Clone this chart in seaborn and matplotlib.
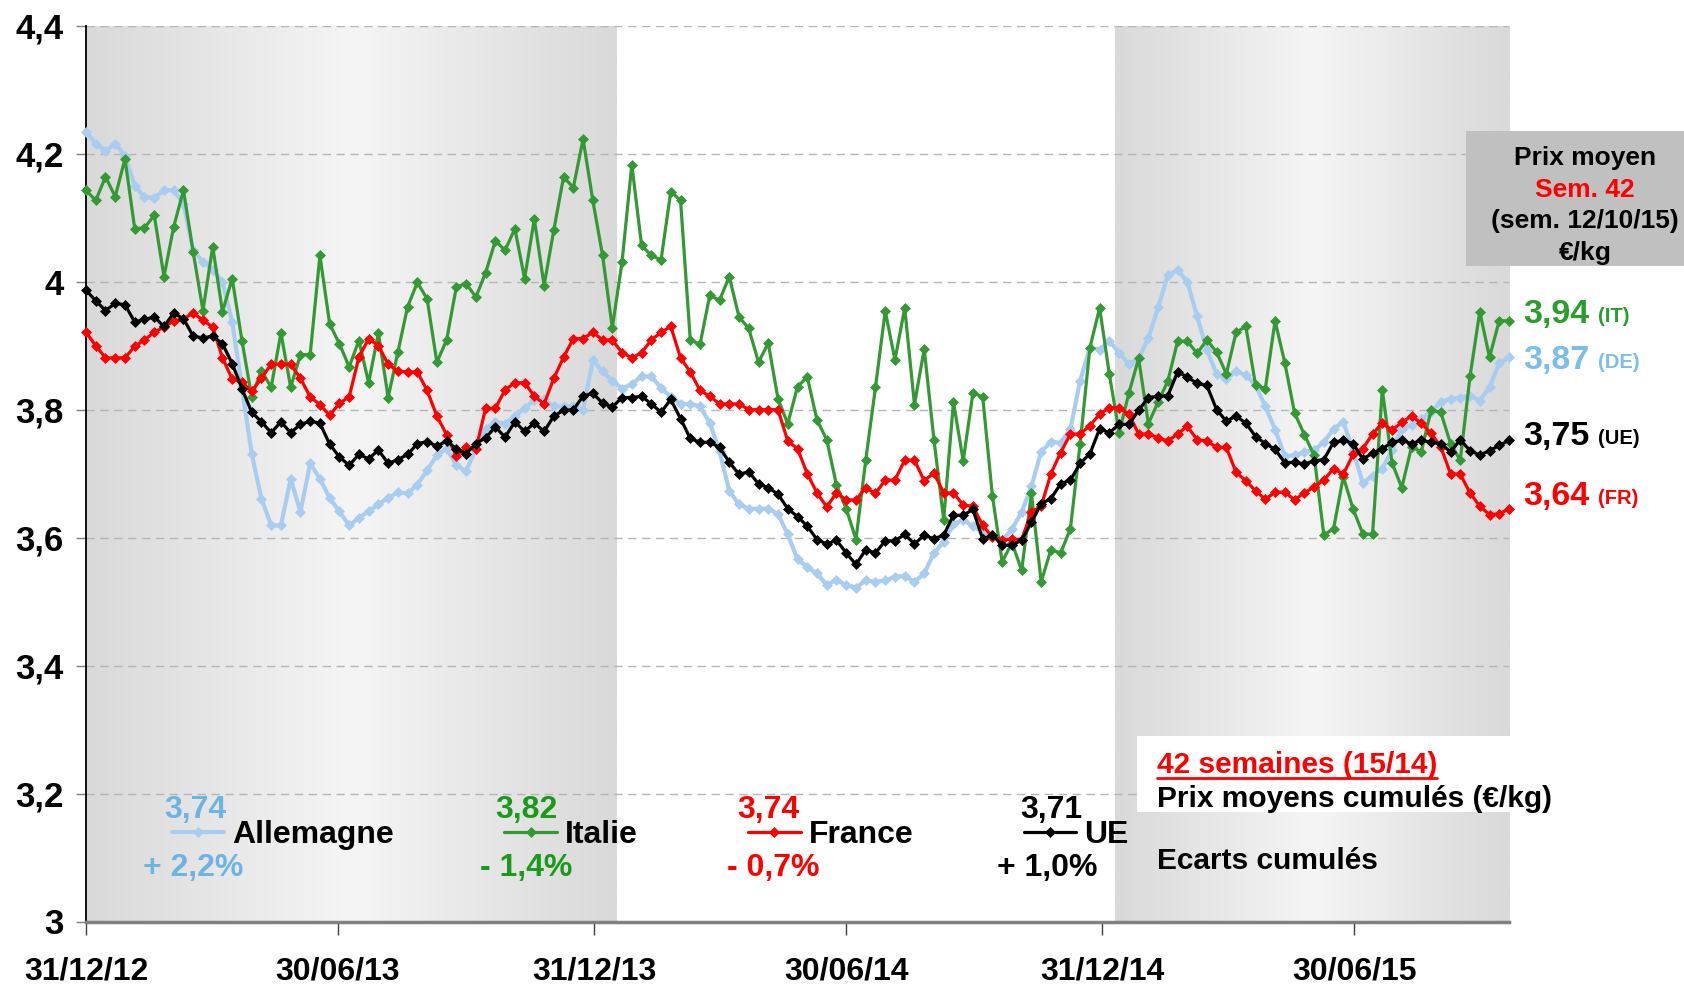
import numpy as np
import pandas as pd
import seaborn as sns
import matplotlib.pyplot as plt
import matplotlib.dates as mdates
from matplotlib.colors import LinearSegmentedColormap
from matplotlib.patches import Rectangle
from matplotlib.lines import Line2D

# weekly prices (EUR/kg), first week = 31/12/12
start_date = '2012-12-31'
countries = ['Allemagne', 'Italie', 'France', 'UE']

de = [4.234, 4.216, 4.204, 4.216, 4.197, 4.15, 4.132, 4.131, 4.143, 4.143,
      4.122, 4.049, 4.031, 4.019, 4.0, 3.937, 3.835, 3.731, 3.661, 3.619,
      3.619, 3.692, 3.64, 3.716, 3.692, 3.662, 3.641, 3.619, 3.631, 3.641,
      3.652, 3.662, 3.671, 3.669, 3.683, 3.705, 3.729, 3.739, 3.713, 3.704,
      3.739, 3.77, 3.781, 3.778, 3.79, 3.802, 3.815, 3.816, 3.805, 3.805,
      3.806, 3.80, 3.877, 3.86, 3.845, 3.833, 3.84, 3.852, 3.852, 3.834,
      3.82, 3.809, 3.809, 3.805, 3.779, 3.735, 3.673, 3.652, 3.645, 3.645,
      3.645, 3.637, 3.605, 3.566, 3.554, 3.544, 3.526, 3.534, 3.526, 3.522,
      3.533, 3.531, 3.533, 3.539, 3.54, 3.531, 3.544, 3.576, 3.593, 3.621,
      3.628, 3.618, 3.609, 3.604, 3.596, 3.613, 3.64, 3.68, 3.734, 3.75,
      3.748, 3.77, 3.845, 3.897, 3.894, 3.907, 3.889, 3.871, 3.88, 3.912,
      3.96, 4.01, 4.018, 4.0, 3.946, 3.893, 3.856, 3.848, 3.86, 3.854,
      3.838, 3.805, 3.769, 3.727, 3.729, 3.734, 3.737, 3.749, 3.77, 3.781,
      3.736, 3.685, 3.697, 3.708, 3.737, 3.77, 3.776, 3.786, 3.796, 3.812,
      3.817, 3.819, 3.822, 3.814, 3.835, 3.873, 3.882]

it = [4.143, 4.127, 4.164, 4.133, 4.192, 4.083, 4.084, 4.104, 4.008, 4.086,
      4.143, 4.046, 3.955, 4.055, 3.953, 4.005, 3.908, 3.82, 3.861, 3.835,
      3.92, 3.835, 3.886, 3.886, 4.041, 3.934, 3.903, 3.867, 3.908, 3.842,
      3.92, 3.819, 3.89, 3.961, 3.999, 3.973, 3.874, 3.909, 3.992, 3.997,
      3.976, 4.014, 4.064, 4.049, 4.083, 4.005, 4.098, 3.994, 4.081, 4.164,
      4.147, 4.223, 4.127, 4.041, 3.928, 4.031, 4.183, 4.057, 4.041, 4.034,
      4.141, 4.127, 3.909, 3.902, 3.979, 3.971, 4.008, 3.945, 3.927, 3.874,
      3.904, 3.817, 3.778, 3.836, 3.851, 3.784, 3.753, 3.682, 3.645, 3.597,
      3.721, 3.835, 3.954, 3.878, 3.959, 3.808, 3.895, 3.753, 3.628, 3.812,
      3.72, 3.826, 3.82, 3.665, 3.562, 3.592, 3.549, 3.669, 3.531, 3.581,
      3.576, 3.614, 3.747, 3.897, 3.959, 3.855, 3.764, 3.826, 3.88, 3.778,
      3.812, 3.845, 3.907, 3.907, 3.888, 3.909, 3.89, 3.856, 3.921, 3.93,
      3.838, 3.833, 3.939, 3.873, 3.795, 3.761, 3.729, 3.604, 3.614, 3.695,
      3.645, 3.606, 3.605, 3.831, 3.717, 3.678, 3.742, 3.734, 3.799, 3.796,
      3.747, 3.721, 3.852, 3.953, 3.882, 3.939, 3.939]

fr = [3.921, 3.9, 3.881, 3.881, 3.881, 3.899, 3.909, 3.921, 3.929, 3.939,
      3.942, 3.951, 3.94, 3.929, 3.881, 3.848, 3.843, 3.829, 3.849, 3.871,
      3.871, 3.871, 3.849, 3.82, 3.808, 3.791, 3.81, 3.82, 3.882, 3.911,
      3.9, 3.871, 3.86, 3.859, 3.859, 3.83, 3.79, 3.761, 3.727, 3.741,
      3.738, 3.802, 3.802, 3.831, 3.842, 3.842, 3.821, 3.809, 3.849, 3.882,
      3.911, 3.911, 3.921, 3.909, 3.909, 3.889, 3.881, 3.889, 3.909, 3.921,
      3.93, 3.881, 3.859, 3.83, 3.821, 3.809, 3.809, 3.809, 3.8, 3.8,
      3.8, 3.8, 3.751, 3.739, 3.7, 3.67, 3.648, 3.67, 3.659, 3.659,
      3.678, 3.669, 3.69, 3.69, 3.721, 3.721, 3.689, 3.701, 3.67, 3.67,
      3.651, 3.649, 3.619, 3.601, 3.596, 3.598, 3.597, 3.64, 3.649, 3.7,
      3.733, 3.762, 3.762, 3.775, 3.793, 3.803, 3.803, 3.793, 3.762, 3.762,
      3.756, 3.751, 3.762, 3.774, 3.753, 3.751, 3.741, 3.741, 3.702, 3.689,
      3.673, 3.66, 3.671, 3.671, 3.659, 3.67, 3.679, 3.69, 3.708, 3.699,
      3.73, 3.739, 3.762, 3.779, 3.768, 3.78, 3.79, 3.779, 3.763, 3.742,
      3.7, 3.699, 3.67, 3.649, 3.636, 3.637, 3.645]

ue = [3.987, 3.97, 3.955, 3.966, 3.964, 3.937, 3.941, 3.945, 3.93, 3.951,
      3.942, 3.915, 3.912, 3.915, 3.903, 3.872, 3.833, 3.796, 3.781, 3.764,
      3.781, 3.764, 3.777, 3.782, 3.779, 3.746, 3.726, 3.713, 3.73, 3.723,
      3.737, 3.716, 3.722, 3.73, 3.747, 3.75, 3.743, 3.751, 3.739, 3.731,
      3.747, 3.756, 3.773, 3.757, 3.781, 3.766, 3.779, 3.766, 3.79, 3.799,
      3.8, 3.821, 3.826, 3.81, 3.804, 3.819, 3.819, 3.821, 3.809, 3.796,
      3.816, 3.786, 3.755, 3.749, 3.749, 3.741, 3.718, 3.699, 3.703, 3.684,
      3.678, 3.668, 3.645, 3.633, 3.618, 3.597, 3.59, 3.596, 3.576, 3.558,
      3.581, 3.576, 3.595, 3.595, 3.605, 3.59, 3.604, 3.598, 3.604, 3.635,
      3.635, 3.644, 3.598, 3.604, 3.588, 3.588, 3.596, 3.624, 3.653, 3.661,
      3.684, 3.69, 3.716, 3.731, 3.77, 3.764, 3.777, 3.777, 3.799, 3.819,
      3.821, 3.822, 3.859, 3.851, 3.841, 3.838, 3.8, 3.782, 3.79, 3.779,
      3.758, 3.747, 3.738, 3.717, 3.718, 3.715, 3.72, 3.722, 3.749, 3.752,
      3.747, 3.723, 3.732, 3.739, 3.749, 3.752, 3.747, 3.752, 3.749, 3.747,
      3.734, 3.753, 3.736, 3.729, 3.736, 3.744, 3.752]

avg_prices = ['3,74', '3,82', '3,74', '3,71']
cum_gaps = ['+ 2,2%', '- 1,4%', '- 0,7%', '+ 1,0%']
last_prices = ['3,94', '3,87', '3,75', '3,64']
last_codes = ['(IT)', '(DE)', '(UE)', '(FR)']
tick_dates = ['2012-12-31', '2013-06-30', '2013-12-31', '2014-06-30', '2014-12-31', '2015-06-30']
tick_labels = ['31/12/12', '30/06/13', '31/12/13', '30/06/14', '31/12/14', '30/06/15']
band_periods = [('2012-12-31', '2014-01-16'), ('2015-01-09', None)]

dates = pd.date_range(start_date, periods=len(de), freq='7D')

sns.set_theme(style='white')
plt.rcParams['font.family'] = ['Liberation Sans', 'DejaVu Sans']
plt.rcParams['font.weight'] = 'bold'
plt.rcParams['text.color'] = 'black'
plt.rcParams['xtick.color'] = 'black'
plt.rcParams['ytick.color'] = 'black'

W, H = 1684, 985
fig = plt.figure(figsize=(W / 100, H / 100), dpi=100)


def fx(px):
    return px / W


def fy(py):
    return 1 - py / H


ax = fig.add_axes([fx(86), fy(921.5), fx(1509) - fx(86), fy(25.8) - fy(921.5)])

# series
line_colors = ['#a9cdf0', '#339933', '#ff0000', '#000000']
line_widths = [3.0, 2.3, 2.3, 2.3]
marker_sizes = [5.5, 5.0, 5.0, 5.0]
for name, vals, col, lw, ms in zip(countries, [de, it, fr, ue], line_colors, line_widths, marker_sizes):
    sns.lineplot(x=dates, y=vals, ax=ax, color=col, linewidth=lw, marker='D',
                 markersize=ms, markeredgecolor=col, markeredgewidth=0.5,
                 label=name, legend=False, clip_on=False, zorder=3)

# grey gradient bands
grad = np.linspace(0, 1, 256)
shade = 1 - np.abs(2 * grad - 1)
band_cmap = LinearSegmentedColormap.from_list('band', ['#d9d9d9', '#f5f5f5'])
for b0, b1 in band_periods:
    x0 = mdates.date2num(pd.Timestamp(b0))
    x1 = mdates.date2num(pd.Timestamp(b1) if b1 else dates[-1])
    ax.imshow(shade[None, :], extent=[x0, x1, 3.0, 4.4], aspect='auto',
              cmap=band_cmap, vmin=0, vmax=1, zorder=0)

ax.set_xlim(dates[0], dates[-1])
ax.set_ylim(3.0, 4.4)
ax.set_xticks(pd.to_datetime(tick_dates))
ax.set_xticklabels(tick_labels)
yt = np.round(np.arange(3.0, 4.41, 0.2), 1)
ax.set_yticks(yt)
ax.set_yticklabels([f'{v:g}'.replace('.', ',') for v in yt])
ax.set_xlabel('')
ax.set_ylabel('')

ax.yaxis.grid(True, color='#b5b5b5', linestyle=(0, (6, 4)), linewidth=1)
ax.xaxis.grid(False)
ax.set_axisbelow(True)
for s in ['top', 'right']:
    ax.spines[s].set_visible(False)
ax.spines['left'].set_color('black')
ax.spines['left'].set_linewidth(1.3)
ax.spines['bottom'].set_color('#808080')
ax.spines['bottom'].set_linewidth(2.5)
ax.tick_params(axis='y', length=7, width=1, color='#808080', pad=9, labelsize=25, left=True)
ax.tick_params(axis='x', length=9, width=1, color='#404040', pad=16, labelsize=23, bottom=True)
for t in ax.get_xticklabels() + ax.get_yticklabels():
    t.set_fontweight('bold')
    t.set_color('black')

# white box behind the cumulative text block
ax.add_patch(Rectangle((fx(1137), fy(812)), fx(1510) - fx(1137), fy(736) - fy(812),
                       transform=fig.transFigure, facecolor='white', edgecolor='none',
                       zorder=0.7, clip_on=False))

# legend row
leg = ax.legend(handles=ax.lines[:4], loc='center left', bbox_to_anchor=(fx(171.5), fy(835)),
                bbox_transform=fig.transFigure, ncol=4, frameon=False, borderpad=0,
                borderaxespad=0, handlelength=1.65, handletextpad=0.25, columnspacing=3.45,
                prop={'weight': 'bold', 'size': 23})
for t in leg.get_texts():
    t.set_color('black')

text_colors = ['#6cb4e4', '#1a9a1a', '#ff0000', '#000000']
num_x = [195, 526, 768, 1051]
gap_x = [193, 526, 773, 1047]
for txt, gap, col, x1, x2 in zip(avg_prices, cum_gaps, text_colors, num_x, gap_x):
    fig.text(fx(x1), fy(810), txt, color=col, fontsize=23, fontweight='bold', ha='center', va='center')
    fig.text(fx(x2), fy(868), gap, color=col, fontsize=23, fontweight='bold', ha='center', va='center')

# last week labels on the right
right_colors = ['#2a9d2a', '#7dbde9', '#000000', '#ff0000']
right_y = [315, 361, 437, 496]
for price, code, col, y in zip(last_prices, last_codes, right_colors, right_y):
    fig.text(fx(1523), fy(y), price, color=col, fontsize=24.5, fontweight='bold', ha='left', va='center')
    fig.text(fx(1598), fy(y + 2), code, color=col, fontsize=14.5, fontweight='bold', ha='left', va='center')

# grey box top right
fig.add_artist(Rectangle((fx(1466), fy(266)), fx(1684) - fx(1466), fy(131) - fy(266),
                         transform=fig.transFigure, facecolor='#c0c0c0', edgecolor='none'))
box_lines = ['Prix moyen', 'Sem. 42', '(sem. 12/10/15)', '€/kg']
box_colors = ['black', '#ff0000', 'black', 'black']
for txt, col, y in zip(box_lines, box_colors, [158, 190, 221, 253]):
    fig.text(fx(1585), fy(y), txt, color=col, fontsize=19, fontweight='bold', ha='center', va='center')

# cumulative block bottom right
t42 = fig.text(fx(1157), fy(765), '42 semaines (15/14)', color='#ff0000', fontsize=21.5,
               fontweight='bold', ha='left', va='center')
fig.text(fx(1157), fy(799), 'Prix moyens cumulés (€/kg)', color='black', fontsize=21.5,
         fontweight='bold', ha='left', va='center')
fig.text(fx(1157), fy(861), 'Ecarts cumulés', color='black', fontsize=21.5,
         fontweight='bold', ha='left', va='center')

fig.canvas.draw()
bb = t42.get_window_extent()
fig.add_artist(Line2D([bb.x0 / W, bb.x1 / W], [(bb.y0 + 1) / H, (bb.y0 + 1) / H],
                      transform=fig.transFigure, color='#ff0000', linewidth=2))

fig.savefig('out.png', dpi=100)
